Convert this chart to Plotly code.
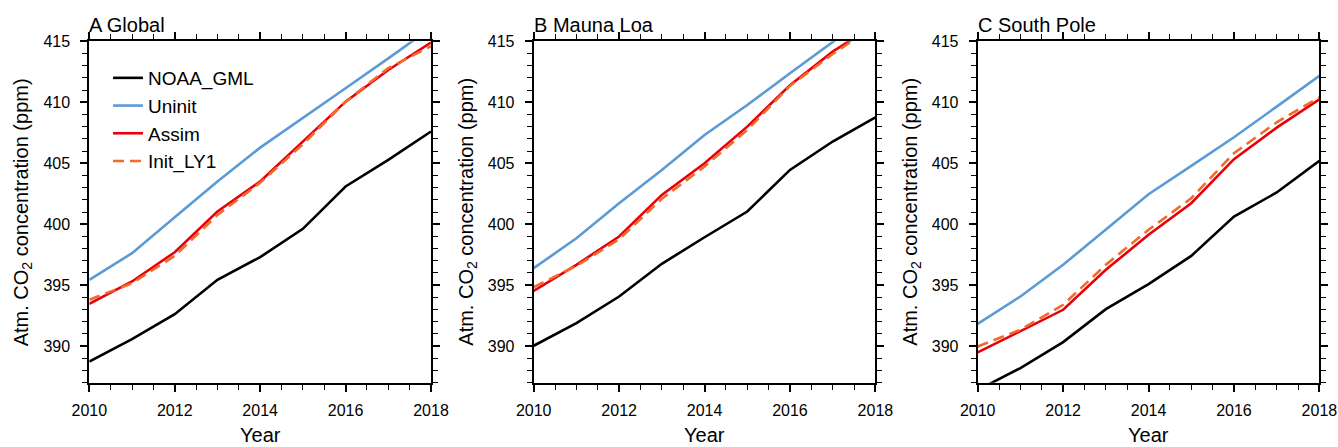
import plotly.graph_objects as go

years = [2010, 2011, 2012, 2013, 2014, 2015, 2016, 2017, 2018]
panel_titles = ["A Global", "B Mauna Loa", "C South Pole"]
series_names = ["NOAA_GML", "Uninit", "Assim", "Init_LY1"]

# Panel A: Global
global_noaa = [388.74, 390.57, 392.62, 395.44, 397.30, 399.62, 403.09, 405.27, 407.60]
global_uninit = [395.44, 397.62, 400.57, 403.50, 406.28, 408.69, 411.15, 413.60, 416.10]
global_assim = [393.47, 395.30, 397.70, 401.04, 403.50, 406.78, 410.05, 412.65, 414.90]
global_init = [393.80, 395.16, 397.40, 400.76, 403.40, 406.56, 410.05, 412.80, 414.60]

# Panel B: Mauna Loa
mlo_noaa = [390.03, 391.89, 394.07, 396.75, 398.93, 401.04, 404.45, 406.78, 408.77]
mlo_uninit = [396.39, 398.85, 401.72, 404.45, 407.32, 409.78, 412.38, 414.97, 417.50]
mlo_assim = [394.54, 396.67, 398.99, 402.40, 405.00, 408.00, 411.40, 414.15, 416.40]
mlo_init = [394.84, 396.58, 398.77, 402.08, 404.73, 407.73, 411.34, 413.96, 416.30]

# Panel C: South Pole
spo_noaa = [386.40, 388.20, 390.33, 393.03, 395.08, 397.40, 400.63, 402.60, 405.19]
spo_uninit = [391.83, 394.07, 396.67, 399.54, 402.46, 404.78, 407.13, 409.64, 412.16]
spo_assim = [389.48, 391.26, 392.98, 396.26, 399.13, 401.72, 405.33, 407.92, 410.25]
spo_init = [389.97, 391.34, 393.39, 396.67, 399.54, 402.13, 405.82, 408.36, 410.40]

panels = [
    [global_noaa, global_uninit, global_assim, global_init],
    [mlo_noaa, mlo_uninit, mlo_assim, mlo_init],
    [spo_noaa, spo_uninit, spo_assim, spo_init],
]

colors = ["#000000", "#5b9bd5", "#e8000b", "#f26a2a"]
dashes = ["solid", "solid", "solid", "11px,6px"]

W, H = 1338, 447
left_px = [89.3, 533.7, 977.7]
plot_w = 341.7
top_px, bottom_px = 41.3, 382.7

FONT = "Liberation Sans, Arial, Helvetica, sans-serif"

fig = go.Figure()
layout = dict(
    template=None,
    width=W, height=H,
    margin=dict(l=0, r=0, t=0, b=0, autoexpand=False),
    plot_bgcolor="white", paper_bgcolor="white",
    font=dict(family=FONT, color="black", size=16),
    showlegend=True,
    legend=dict(
        x=108 / W, y=1 - 59 / H, xanchor="left", yanchor="top",
        bgcolor="rgba(0,0,0,0)", borderwidth=0,
        font=dict(size=19, family=FONT, color="black"),
        tracegroupgap=0, itemwidth=30,
    ),
)
annotations = []
ydom = [1 - bottom_px / H, 1 - top_px / H]

for i in range(3):
    sfx = "" if i == 0 else str(i + 1)
    xa, ya = "x" + sfx, "y" + sfx
    for j in range(4):
        fig.add_trace(go.Scatter(
            x=years, y=panels[i][j], mode="lines", name=series_names[j],
            line=dict(color=colors[j], width=2.6, dash=dashes[j]),
            xaxis=xa, yaxis=ya, showlegend=(i == 0),
        ))
    xd = [left_px[i] / W, (left_px[i] + plot_w) / W]
    layout["xaxis" + sfx] = dict(
        domain=xd, anchor=ya, range=[2010, 2018], automargin=False,
        tickmode="linear", tick0=2010, dtick=2,
        ticks="outside", ticklen=7, tickwidth=1.6, tickcolor="black",
        minor=dict(dtick=0.5, tick0=2010, ticks="outside", ticklen=5, tickwidth=1.4, tickcolor="black"),
        showline=True, linewidth=2, linecolor="black", mirror="allticks",
        showgrid=False, zeroline=False,
        tickfont=dict(size=16, family=FONT, color="black"),
        ticklabelstandoff=5,
    )
    layout["yaxis" + sfx] = dict(
        domain=ydom, anchor=xa, range=[387, 415], automargin=False,
        tickmode="linear", tick0=390, dtick=5,
        ticks="outside", ticklen=7, tickwidth=1.6, tickcolor="black",
        minor=dict(dtick=1, tick0=390, ticks="outside", ticklen=5, tickwidth=1.4, tickcolor="black"),
        showline=True, linewidth=2, linecolor="black", mirror="allticks",
        showgrid=False, zeroline=False,
        tickfont=dict(size=16, family=FONT, color="black"),
        ticklabelstandoff=7,
    )
    # panel title
    annotations.append(dict(
        text=panel_titles[i], xref="paper", yref="paper",
        x=left_px[i] / W, y=1 - top_px / H, xanchor="left", yanchor="bottom",
        showarrow=False, font=dict(size=20, family=FONT, color="black"), yshift=3,
        xshift=-2,
    ))
    # y axis title
    annotations.append(dict(
        text="Atm. CO<sub>2</sub> concentration (ppm)", xref="paper", yref="paper",
        x=(left_px[i] - 67) / W, y=1 - 212 / H, xanchor="center", yanchor="middle",
        textangle=-90, showarrow=False, font=dict(size=20, family=FONT, color="black"),
    ))
    # x axis title
    annotations.append(dict(
        text="Year", xref="paper", yref="paper",
        x=(left_px[i] + plot_w / 2) / W, y=1 - 435 / H, xanchor="center", yanchor="middle",
        showarrow=False, font=dict(size=20, family=FONT, color="black"),
    ))

layout["annotations"] = annotations
fig.update_layout(**layout)
fig.write_html("out.html")
